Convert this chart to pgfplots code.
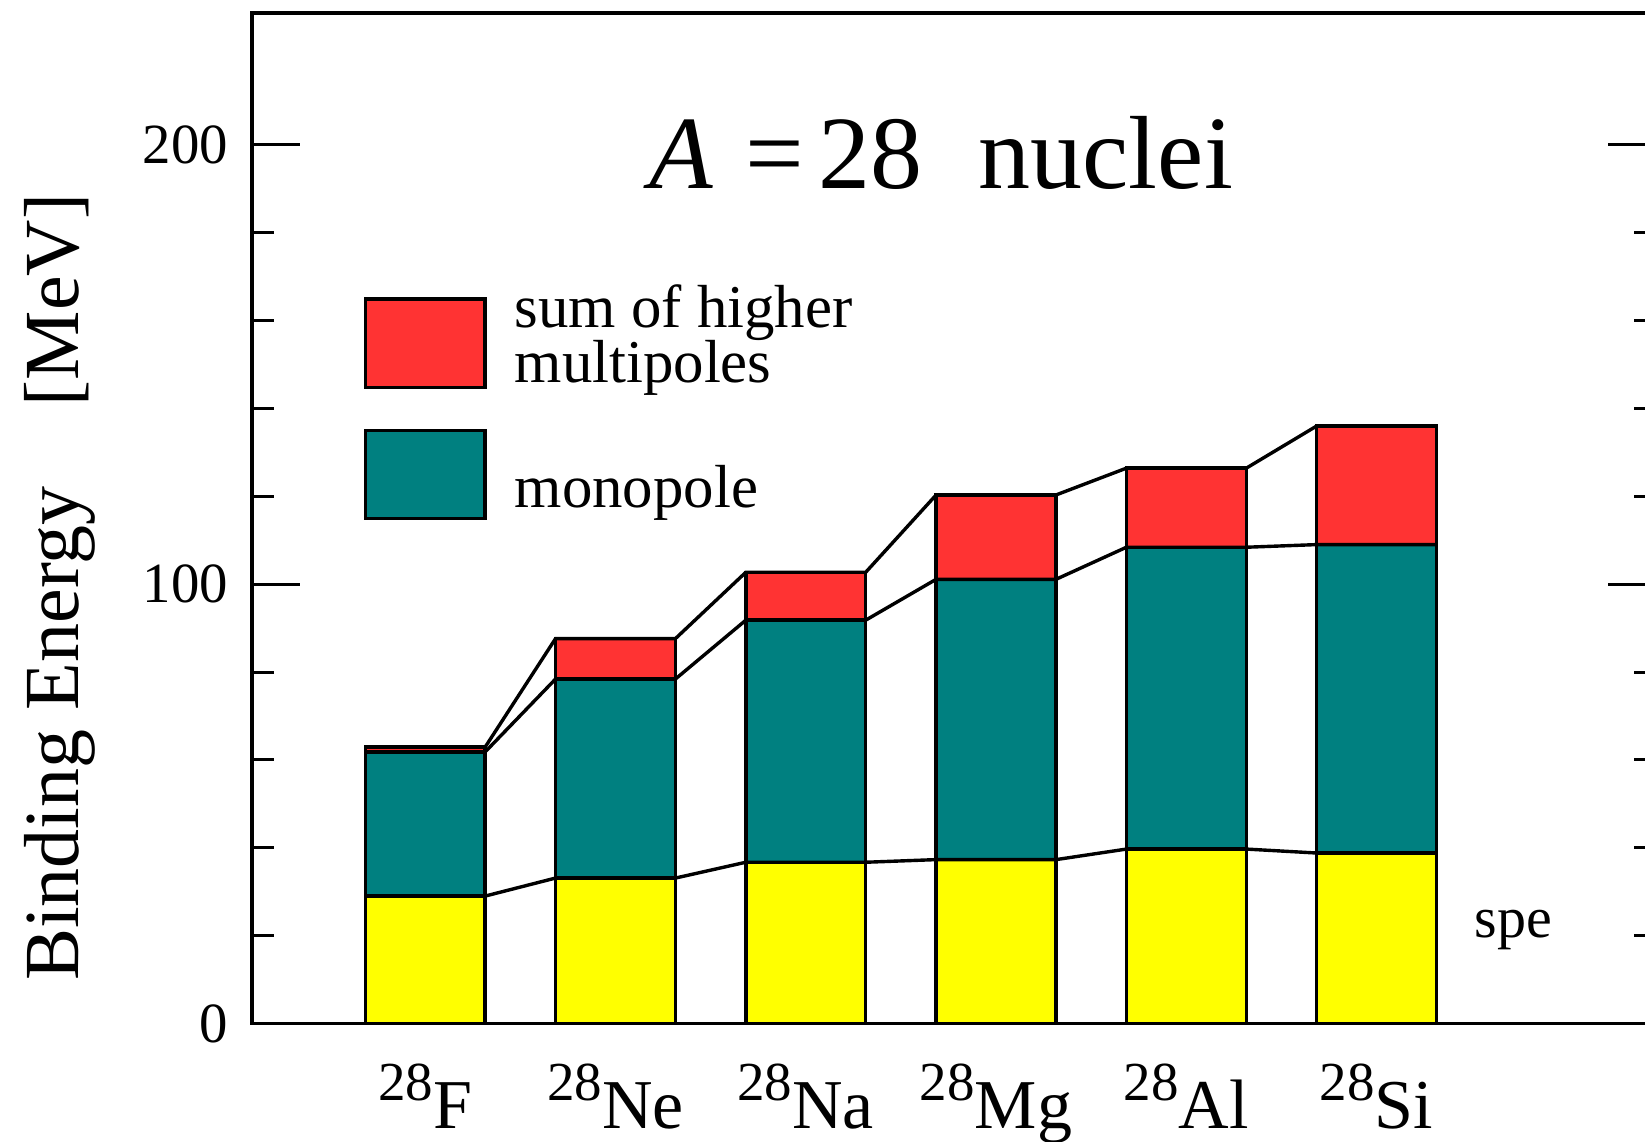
\documentclass[border=0pt]{standalone}
\usepackage{fontspec}
\setmainfont{Liberation Serif}
\usepackage{pgfplots}
\pgfplotsset{compat=1.18}
\usepackage{pgfplotstable}

\definecolor{hired}{RGB}{255,51,51}
\definecolor{monoteal}{RGB}{0,128,128}
\definecolor{speyellow}{RGB}{255,255,0}

% cumulative tops of the three contributions, one row per nucleus
% spe = single-particle energies, mono = spe + monopole, total = mono + higher multipoles
\pgfplotstableread{
x spe mono total
1 29.0 61.8 62.9
2 33.1 78.4 87.6
3 36.7 91.8 102.7
4 37.3 101.1 120.3
5 39.7 108.4 126.4
6 38.8 109.0 136.0
}\bindata

% the same levels at the left and right edge of each bar (half width 0.315),
% used for the lines that join neighbouring bars
\pgfplotstableread{
x spe mono total
0.685 29.0 61.8 62.9
1.315 29.0 61.8 62.9
1.685 33.1 78.4 87.6
2.315 33.1 78.4 87.6
2.685 36.7 91.8 102.7
3.315 36.7 91.8 102.7
3.685 37.3 101.1 120.3
4.315 37.3 101.1 120.3
4.685 39.7 108.4 126.4
5.315 39.7 108.4 126.4
5.685 38.8 109.0 136.0
6.315 38.8 109.0 136.0
}\edges

\newcommand\iso[2]{\raisebox{7pt}{\fontsize{13.75}{14}\selectfont #1}#2}
% fixed baseline distance for the two-line legend text
\newcommand\legendfont{\fontsize{15.2}{13.8}\selectfont
  \lineskiplimit=-20pt\relax\lineskip=0pt\relax}

\begin{document}
\begin{tikzpicture}
\begin{axis}[
  name=ax,
  scale only axis,
  width=351pt, height=252.625pt,
  xmin=0.09, xmax=7.468,
  ymin=0, ymax=230,
  clip=false,
  axis line style={line width=0.8pt, black},
  xtick={1,2,3,4,5,6},
  xticklabels={{\iso{28}{F}},{\iso{28}{Ne}},{\iso{28}{Na}},{\iso{28}{Mg}},{\iso{28}{Al}},{\iso{28}{Si}}},
  x tick style={draw=none},
  xticklabel style={anchor=base, inner sep=0pt, yshift=-26.2pt,
    font=\fontsize{17.5}{18}\selectfont},
  ytick={0,100,200},
  minor ytick={20,40,60,80,120,140,160,180},
  ytick pos=both, yticklabel pos=left,
  tick align=inside,
  major tick length=11.9pt, minor tick length=5.4pt,
  y tick style={line width=0.75pt, black},
  yticklabel style={anchor=east, inner sep=0pt, xshift=-5.8pt,
    font=\fontsize{14.2}{15}\selectfont},
  /pgf/number format/assume math mode=true,
]

% bars, drawn from the largest cumulative level down
\addplot[ybar, bar width=0.63, bar shift=0pt, fill=hired, draw=black, line width=0.85pt]
  table[x=x, y=total] {\bindata};
\addplot[ybar, bar width=0.63, bar shift=0pt, fill=monoteal, draw=black, line width=0.85pt]
  table[x=x, y=mono] {\bindata};
\addplot[ybar, bar width=0.63, bar shift=0pt, fill=speyellow, draw=black, line width=0.85pt]
  table[x=x, y=spe] {\bindata};

% lines joining the levels of neighbouring bars
\addplot[black, line width=0.85pt, mark=none] table[x=x, y=spe] {\edges};
\addplot[black, line width=0.85pt, mark=none] table[x=x, y=mono] {\edges};
\addplot[black, line width=0.85pt, mark=none] table[x=x, y=total] {\edges};

% legend
\draw[fill=hired, line width=0.85pt] (axis cs:0.685,144.8) rectangle (axis cs:1.315,164.9);
\draw[fill=monoteal, line width=0.85pt] (axis cs:0.685,115.0) rectangle (axis cs:1.315,135.0);
\node[anchor=base west, inner sep=0pt, align=left, font=\legendfont]
  at (axis cs:1.467,145.85) {sum of higher\\multipoles};
\node[anchor=base west, inner sep=0pt, font=\fontsize{15.2}{15}\selectfont]
  at (axis cs:1.467,117.5) {monopole};

% title and annotations
\node[anchor=base, inner sep=0pt, font=\fontsize{26}{26}\selectfont]
  at (axis cs:3.713,190) {\textit{A}\hspace{8pt}=\hspace{3.6pt}28\hspace{14pt}nuclei};
\node[anchor=base west, inner sep=0pt, font=\fontsize{14.5}{15}\selectfont]
  at (axis cs:6.51,19.6) {spe};
\node[rotate=90, anchor=base, inner sep=0pt, font=\fontsize{19.5}{20}\selectfont]
  at (rel axis cs:-0.1234,0.4315) {Binding Energy\hspace{20pt}[MeV]};
\end{axis}
\pgfresetboundingbox
\path[use as bounding box] ([shift={(-63pt,-29.625pt)}]ax.south west)
  rectangle ([shift={(348.25pt,3.25pt)}]ax.north west);
\end{tikzpicture}
\end{document}
